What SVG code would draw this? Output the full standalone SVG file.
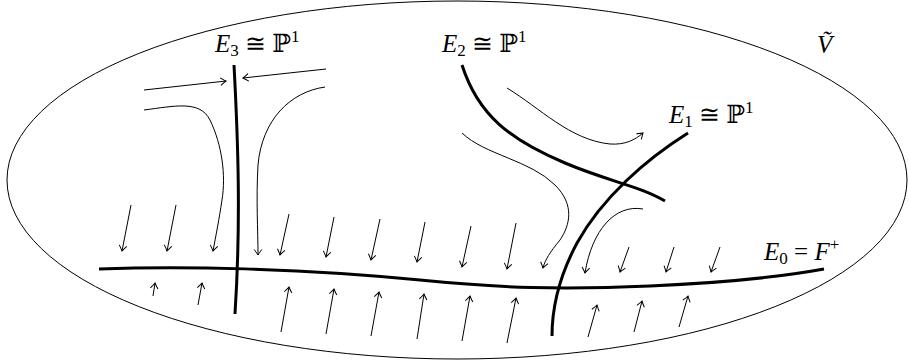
<svg xmlns="http://www.w3.org/2000/svg" width="909" height="364" viewBox="0 0 909 364">
<style>
.thick{fill:none;stroke:#000;stroke-width:3;stroke-linecap:butt}
.thin{fill:none;stroke:#000;stroke-width:1}
.flow{fill:none;stroke:#000;stroke-width:1;marker-end:url(#ah)}
.lbl{font-family:"Liberation Serif","DejaVu Serif",serif;font-size:25px;fill:#000}
.it{font-style:italic}
</style>
<defs>
<marker id="ah" markerUnits="userSpaceOnUse" viewBox="-7 -5 8 10" refX="0" refY="0" markerWidth="8" markerHeight="10" orient="auto">
<path d="M-5.5,-3.8 Q-1.6,-0.9 0,0 Q-1.6,0.9 -5.5,3.8" fill="none" stroke="#000" stroke-width="1"/>
</marker>
</defs>
<g id="V">
<ellipse class="thin" cx="457" cy="180" rx="450" ry="179"/>
<text class="lbl it" x="817" y="53">Ṽ</text>
</g>
<g id="E0">
<path class="thick" d="M99,269 C180,266 300,268 420,280 C500,288 560,290 650,286 C720,283 780,277 824,269"/>
<text class="lbl" x="764" y="260"><tspan class="it">E</tspan><tspan font-size="17" dy="4">0</tspan><tspan dy="-4"> = </tspan><tspan class="it">F</tspan><tspan font-size="17" dy="-10">+</tspan></text>
</g>
<g id="E3">
<path class="thick" d="M234,65 C238,140 241,220 235,314"/>
<text class="lbl" x="215" y="52"><tspan class="it">E</tspan><tspan font-size="17" dy="4">3</tspan><tspan dy="-4"> ≅ ℙ</tspan><tspan font-size="17" dy="-10">1</tspan></text>
</g>
<g id="E2">
<path class="thick" d="M462,65 C478,115 510,140 565,163 C610,182 640,186 665,201"/>
<text class="lbl" x="442" y="52"><tspan class="it">E</tspan><tspan font-size="17" dy="4">2</tspan><tspan dy="-4"> ≅ ℙ</tspan><tspan font-size="17" dy="-10">1</tspan></text>
</g>
<g id="E1">
<path class="thick" d="M688,133 C645,160 602,198 577,243 C561,273 552,305 552,336"/>
<text class="lbl" x="669" y="123"><tspan class="it">E</tspan><tspan font-size="17" dy="4">1</tspan><tspan dy="-4"> ≅ ℙ</tspan><tspan font-size="17" dy="-10">1</tspan></text>
</g>
<g id="connectors">
<path class="flow" d="M144,90 L226,81"/>
<path class="flow" d="M326,69 L243,78"/>
<path class="flow" d="M144,110 C175,106 200,100 210,120 C222,145 226,175 222,200 C219,220 216,235 213,251"/>
<path class="flow" d="M325,87 C290,92 262,120 258,165 C256,200 258,230 258,255"/>
<path class="flow" d="M507,88 C540,108 570,140 610,144 C625,145 635,140 643,133"/>
<path class="flow" d="M462,133 C485,155 530,160 555,185 C575,205 570,225 560,240 C550,252 545,260 543,268"/>
<path class="flow" d="M643,209 C615,204 592,230 585,273"/>
<path class="flow" d="M131,205 L122,251"/>
<path class="flow" d="M176,205 L167,251"/>
<path class="flow" d="M289,214 L280,255"/>
<path class="flow" d="M334,217 L326,257"/>
<path class="flow" d="M380,219 L371,260"/>
<path class="flow" d="M425,222 L417,262"/>
<path class="flow" d="M471,226 L462,267"/>
<path class="flow" d="M516,223 L507,269"/>
<path class="flow" d="M629,247 L620,272"/>
<path class="flow" d="M674,247 L666,272"/>
<path class="flow" d="M720,247 L711,272"/>
<path class="flow" d="M153,296 L155,283"/>
<path class="flow" d="M198,305 L202,283"/>
<path class="flow" d="M281,332 L289,287"/>
<path class="flow" d="M326,334 L334,289"/>
<path class="flow" d="M371,336 L379,292"/>
<path class="flow" d="M417,339 L424,294"/>
<path class="flow" d="M462,341 L470,296"/>
<path class="flow" d="M507,343 L516,298"/>
<path class="flow" d="M588,337 L597,305"/>
<path class="flow" d="M634,332 L642,301"/>
<path class="flow" d="M679,327 L688,296"/>
</g>
</svg>
